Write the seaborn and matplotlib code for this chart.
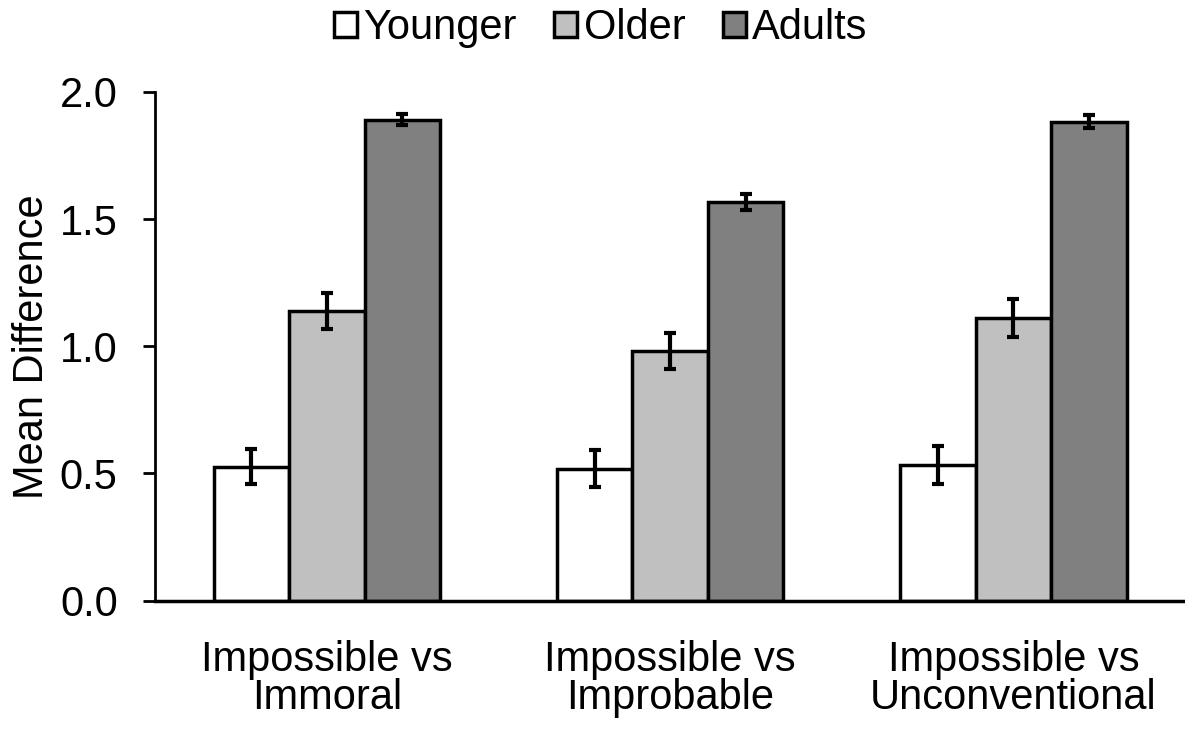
import matplotlib
matplotlib.use("Agg")
import matplotlib.pyplot as plt
from matplotlib.patches import Patch
import seaborn as sns
import pandas as pd

# --- data ---
comparisons = ["Impossible vs\nImmoral", "Impossible vs\nImprobable", "Impossible vs\nUnconventional"]
groups = ["Younger", "Older", "Adults"]
younger = [0.527, 0.519, 0.534]
older = [1.139, 0.982, 1.112]
adults = [1.890, 1.568, 1.882]
younger_err = [0.068, 0.073, 0.074]
older_err = [0.071, 0.070, 0.074]
adults_err = [0.022, 0.032, 0.026]

colors = ["#ffffff", "#c0c0c0", "#808080"]

rows = []
for g, vals, errs in zip(groups, [younger, older, adults], [younger_err, older_err, adults_err]):
    for c, v, e in zip(comparisons, vals, errs):
        rows.append({"comparison": c, "group": g, "mean": v, "err": e})
df = pd.DataFrame(rows)

sns.set_style("ticks")
plt.rcParams["font.family"] = ["Liberation Sans", "DejaVu Sans"]
plt.rcParams["text.color"] = "black"
plt.rcParams["axes.labelcolor"] = "black"
plt.rcParams["xtick.color"] = "black"
plt.rcParams["ytick.color"] = "black"
plt.rcParams["axes.edgecolor"] = "black"

fig = plt.figure(figsize=(11.85, 7.29), dpi=100)
ax = fig.add_axes([0.131, 0.176, 0.869, 0.698])

sns.barplot(data=df, x="comparison", y="mean", hue="group", order=comparisons,
            hue_order=groups, palette=colors, width=0.66, gap=0,
            edgecolor="black", linewidth=2.5, errorbar=None, legend=False, ax=ax)

# --- error bars placed at the bar centres that seaborn computed ---
for container, g in zip(ax.containers, groups):
    sub = df[df["group"] == g].set_index("comparison").loc[comparisons]
    xs = [bar.get_x() + bar.get_width() / 2 for bar in container]
    ax.errorbar(xs, sub["mean"].values, yerr=sub["err"].values, fmt="none",
                ecolor="black", elinewidth=3, capsize=4.5, capthick=3, zorder=5)

ax.set_ylim(0, 2.0)
ax.set_xlim(-0.5, 2.5)
ax.set_yticks([0.0, 0.5, 1.0, 1.5, 2.0])
ax.set_yticklabels([f"{t:.1f}" for t in [0.0, 0.5, 1.0, 1.5, 2.0]])
ax.set_xlabel("")
ax.set_ylabel("Mean Difference", fontsize=30, labelpad=6)
ax.tick_params(axis="y", labelsize=30, length=9, width=2, pad=18)
ax.tick_params(axis="x", labelsize=30, length=0, pad=28)
for lab in ax.get_xticklabels():
    lab.set_linespacing(0.95)
sns.despine(ax=ax)
ax.spines["left"].set_linewidth(2)
ax.spines["bottom"].set_linewidth(2.5)

# --- legend on top ---
handles = [Patch(facecolor=c, edgecolor="black", linewidth=2.5) for c in colors]
fig.legend(handles, groups, loc="upper center", bbox_to_anchor=(0.507, 1.04), ncol=3,
           frameon=False, fontsize=30, handlelength=0.55, handleheight=0.55,
           handletextpad=0.15, columnspacing=0.9)

fig.savefig("out.png", dpi=100)
